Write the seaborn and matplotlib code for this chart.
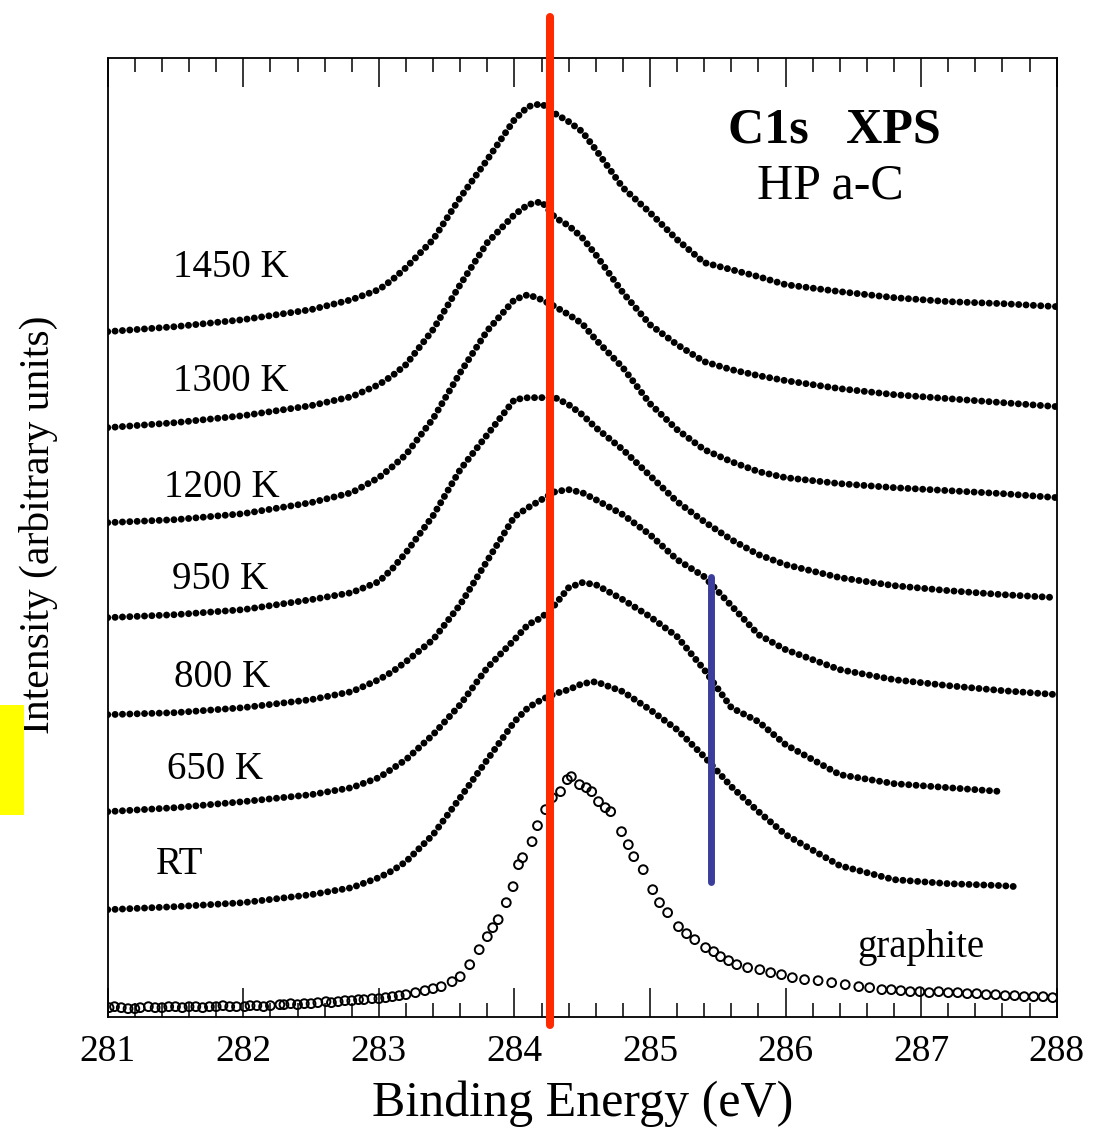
import numpy as np
import pandas as pd
import matplotlib
matplotlib.use('Agg')
import matplotlib.pyplot as plt
from matplotlib.patches import Rectangle
from matplotlib.ticker import MultipleLocator
import seaborn as sns

# Binding energy grid (eV) used for the annealed a-C spectra
energy = [281.0, 281.5, 282.0, 282.5, 282.8, 283.0, 283.1, 283.2, 283.4, 283.6, 283.8, 284.0,
          284.1, 284.2, 284.3, 284.4, 284.5, 284.6, 284.8, 285.0, 285.2, 285.4,
          285.6, 285.8, 286.0, 286.4, 286.8, 287.2, 287.6, 288.0]

# Intensities (arbitrary units, curves already offset)
i_1450 = [685, 690, 697, 707, 717, 727, 737, 749, 777, 819, 857, 897, 910, 913, 903, 895,
          885, 867, 829, 804, 777, 754, 747, 740, 732, 725, 719, 715, 713, 710]
i_1300 = [589, 594, 601, 611, 620, 632, 641, 652, 687, 732, 774, 802, 812, 815, 799, 791,
          779, 762, 724, 692, 672, 655, 647, 641, 636, 628, 622, 618, 614, 610]
i_1200 = [494, 497, 503, 514, 524, 539, 550, 562, 598, 644, 686, 717, 722, 717, 710, 702,
          693, 677, 649, 613, 587, 567, 555, 545, 539, 533, 529, 526, 523, 519]
i_950 = [399, 402, 407, 417, 424, 435, 448, 464, 501, 547, 582, 617, 619, 619, 619, 612,
         602, 589, 567, 541, 515, 495, 477, 462, 452, 439, 431, 426, 422, 419]
i_800 = [302, 304, 309, 317, 325, 337, 345, 355, 377, 412, 456, 500, 509, 517, 525, 527,
         524, 517, 502, 482, 457, 440, 411, 382, 367, 347, 337, 331, 326, 322]
# 650 K stops at 287.6 eV, RT at 287.7 eV
i_650 = [205, 209, 215, 222, 229, 239, 248, 257, 282, 312, 349, 377, 392, 399, 412, 429,
         434, 432, 417, 400, 380, 347, 309, 295, 272, 242, 233, 229, 225]
energy_rt = energy[:-1] + [287.7]
i_rt = [107, 110, 114, 122, 129, 139, 146, 155, 182, 219, 257, 295, 309, 317, 323, 327,
        333, 335, 325, 307, 287, 260, 230, 205, 182, 151, 137, 133, 131, 130]

# graphite reference (open circles)
e_graphite = [281.01, 281.05, 281.1, 281.15, 281.2, 281.24, 281.3, 281.35, 281.4, 281.45,
              281.5, 281.55, 281.6, 281.65, 281.7, 281.75, 281.8, 281.85, 281.9, 281.95,
              282.01, 282.05, 282.1, 282.15, 282.2, 282.27, 282.3, 282.35, 282.4, 282.45,
              282.5, 282.55, 282.61, 282.65, 282.7, 282.75, 282.8, 282.85, 282.89, 282.95,
              283.0, 283.05, 283.1, 283.15, 283.2, 283.27, 283.34, 283.4, 283.46, 283.54,
              283.6, 283.67, 283.74, 283.8, 283.84, 283.88, 283.94, 283.99, 284.03, 284.06,
              284.13, 284.17, 284.23, 284.28, 284.34, 284.39, 284.42, 284.48, 284.53, 284.57,
              284.62, 284.67, 284.71, 284.79, 284.84, 284.88, 284.95, 285.02, 285.07, 285.13,
              285.21, 285.27, 285.33, 285.41, 285.47, 285.52, 285.58, 285.64, 285.72, 285.81,
              285.89, 285.97, 286.05, 286.14, 286.24, 286.34, 286.44, 286.54, 286.62, 286.71,
              286.78, 286.85, 286.92, 286.99, 287.06, 287.13, 287.2, 287.27, 287.34, 287.41,
              287.48, 287.55, 287.62, 287.69, 287.76, 287.83, 287.9, 287.97]
i_graphite = [9, 10, 9, 8, 8, 9, 10, 9, 9, 10,
              10, 9, 10, 10, 9, 10, 10, 11, 10, 10,
              10, 11, 11, 10, 11, 12, 12, 13, 12, 13,
              13, 14, 15, 14, 15, 16, 16, 17, 17, 18,
              18, 19, 20, 21, 22, 24, 26, 28, 30, 35,
              40, 52, 67, 80, 89, 97, 114, 130, 152, 159,
              175, 191, 207, 219, 225, 237, 240, 232, 229, 225,
              215, 209, 205, 185, 172, 160, 147, 127, 114, 104,
              90, 83, 77, 69, 65, 60, 56, 52, 49, 47,
              44, 42, 39, 37, 36, 34, 32, 30, 29, 27,
              27, 26, 25, 25, 24, 25, 24, 24, 23, 23,
              22, 22, 21, 21, 20, 20, 20, 19]

curves = [('1450 K', energy, i_1450), ('1300 K', energy, i_1300),
          ('1200 K', energy, i_1200), ('950 K', energy, i_950),
          ('800 K', energy, i_800), ('650 K', energy[:-1], i_650),
          ('RT', energy_rt, i_rt)]

# label positions (eV, intensity)
label_pos = {'1450 K': (281.91, 749), '1300 K': (281.91, 635), '1200 K': (281.84, 529),
             '950 K': (281.83, 437), '800 K': (281.84, 339), '650 K': (281.79, 247),
             'RT': (281.53, 152)}

sns.set_style('white')
plt.rcParams['font.family'] = ['Liberation Serif', 'DejaVu Serif']
plt.rcParams['text.color'] = 'black'
plt.rcParams['axes.labelcolor'] = 'black'
plt.rcParams['xtick.color'] = 'black'

fig = plt.figure(figsize=(10.98, 11.30), dpi=100)
ax = fig.add_axes([0.0981, 0.1003, 0.8643, 0.8487])

for name, e, inten in curves:
    sns.lineplot(x=e, y=inten, ax=ax, color='black', sort=False,
                 linewidth=5.0, linestyle=(0, (0.01, 1.05)), dash_capstyle='round')
    lx, ly = label_pos[name]
    ax.text(lx, ly, name, fontsize=28, ha='center', va='center')

sns.scatterplot(x=e_graphite, y=i_graphite, ax=ax, s=40, marker='o',
                facecolor='none', edgecolor='black', linewidth=1.4, zorder=3)
ax.text(287.0, 69, 'graphite', fontsize=28, ha='center', va='center')

ax.text(286.36, 886, 'C1s   XPS', fontsize=36, fontweight='bold', ha='center', va='center')
ax.text(286.33, 830, 'HP a-C', fontsize=36, ha='center', va='center')

# reference lines
ax.axvline(284.26, ymin=-0.0087, ymax=1.0425, color='#ff2a00', lw=5.8, clip_on=False, zorder=5)
ax.axvline(285.45, ymin=0.1405, ymax=0.4585, color='#3b3d9c', lw=5.0, zorder=5)

ax.set_xlim(281, 288)
ax.set_ylim(0, 959)
ax.set_yticks([])
ax.xaxis.set_major_locator(MultipleLocator(1))
ax.xaxis.set_minor_locator(MultipleLocator(0.2))
ax.tick_params(axis='x', which='both', direction='in', top=True, bottom=True,
               color='black', labelcolor='black', width=1.1, labelsize=27, pad=13)
ax.tick_params(axis='x', which='major', length=21)
ax.tick_params(axis='x', which='minor', length=10)
for sp in ax.spines.values():
    sp.set_linewidth(1.3)
    sp.set_color('black')

ax.set_xlabel('Binding Energy (eV)', fontsize=36, labelpad=8)
ax.set_ylabel('Intensity (arbitrary units)', fontsize=30)
ax.yaxis.set_label_coords(-0.073, 0.513)
ax.yaxis.label.set_verticalalignment('center')

fig.patches.append(Rectangle((0, 0.2788), 0.0219, 0.0973, transform=fig.transFigure,
                             facecolor='#ffff00', edgecolor='none'))

fig.savefig('out.png', dpi=100, facecolor='white')
